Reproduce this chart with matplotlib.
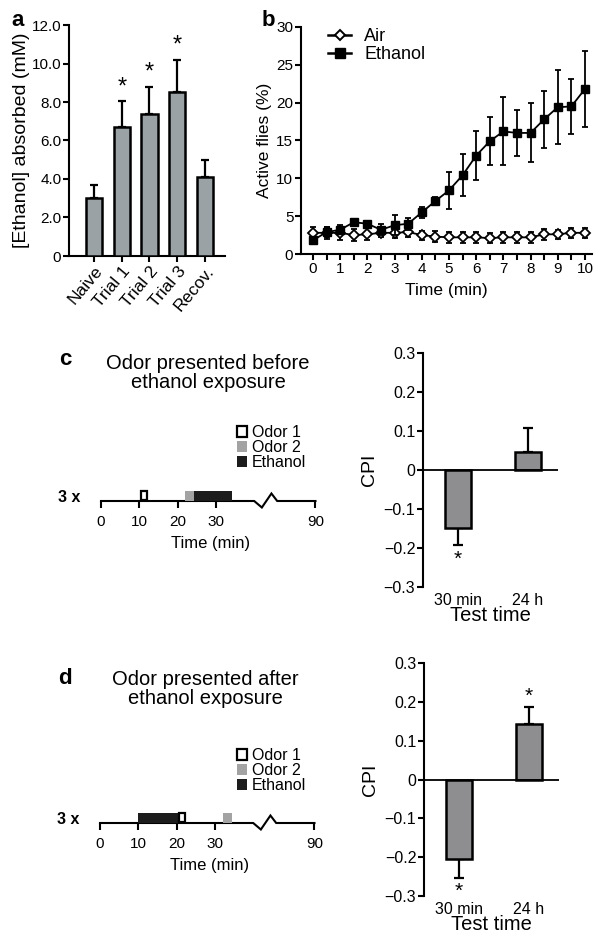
""" ethanol exposure figure: absorption, activity and odor preference panels """

import matplotlib
matplotlib.use("Agg")
from matplotlib import pyplot as plt
from matplotlib.lines import Line2D
from matplotlib.patches import Patch, Rectangle

plt.rcParams['font.family'] = ['Liberation Sans', 'DejaVu Sans']

# panel a : ethanol absorbed
groups_a = ['Naive', 'Trial 1', 'Trial 2', 'Trial 3', 'Recov.']
ethanol_mm = [3.0, 6.7, 7.4, 8.5, 4.1]
ethanol_mm_err = [0.7, 1.35, 1.4, 1.7, 0.9]
signif_a = [False, True, True, True, False]

# panel b : active flies over time
time_min = [0, 0.5, 1, 1.5, 2, 2.5, 3, 3.5, 4, 4.5, 5, 5.5, 6, 6.5, 7, 7.5, 8, 8.5, 9, 9.5, 10]
air_pct = [2.8, 2.8, 2.8, 2.5, 2.6, 2.8, 2.8, 2.9, 2.5, 2.3, 2.2, 2.2, 2.2, 2.1, 2.2, 2.2, 2.2, 2.6, 2.6, 2.8, 2.8]
air_err = [0.8, 0.8, 1.0, 0.8, 0.8, 0.6, 0.7, 0.7, 0.6, 0.7, 0.7, 0.7, 0.7, 0.7, 0.7, 0.7, 0.7, 0.7, 0.6, 0.7, 0.7]
ethanol_pct = [1.8, 2.9, 3.2, 4.2, 4.0, 3.2, 3.8, 4.0, 5.5, 7.0, 8.4, 10.4, 13.0, 14.9, 16.2, 16.0, 16.0, 17.8, 19.4, 19.5, 21.8]
ethanol_err = [0.5, 0.7, 0.4, 0.3, 0.3, 0.7, 1.3, 0.8, 0.7, 0.5, 2.4, 2.8, 3.2, 3.2, 4.5, 3.0, 3.9, 3.8, 4.9, 3.6, 5.0]

# panels c, d : protocol schedules (start, duration in min)
before_odor1 = (10.5, 1.5)
before_odor2 = (22.0, 2.3)
before_ethanol = (24.3, 10.0)
after_ethanol = (10.0, 10.7)
after_odor1 = (20.7, 1.6)
after_odor2 = (32.2, 2.3)
schedule_ticks = [0, 10, 20, 30, 90]

# panels c, d : conditioned preference index
test_times = ['30 min', '24 h']
cpi_before = [-0.15, 0.045]
cpi_before_err = [0.043, 0.063]
cpi_after = [-0.205, 0.143]
cpi_after_err = [0.048, 0.043]

W, H = 599, 938
BAR_A = '#9ba2a6'
BAR_CD = '#8e8e91'
ODOR2 = '#a3a3a3'
ETOH = '#1c1c1c'

fig = plt.figure(figsize=(W / 100, H / 100), dpi=100)


def px_axes(left, top, right, bottom):
    """ axes placed with pixel coordinates of the figure """
    return fig.add_axes([left / W, 1 - bottom / H, (right - left) / W, (bottom - top) / H])


def style_axes(ax, fs=10):
    for s in ['top', 'right']:
        ax.spines[s].set_visible(False)
    for s in ['left', 'bottom']:
        ax.spines[s].set_linewidth(1.5)
    ax.tick_params(direction='out', length=4, width=1.5, labelsize=fs, pad=1.5)


# ---------------- panel a
ax_a = px_axes(69, 25, 225, 256)
xa = list(range(len(groups_a)))
ax_a.bar(xa, ethanol_mm, width=0.58, color=BAR_A, edgecolor='black', linewidth=1.8, zorder=3)
ax_a.errorbar(xa, ethanol_mm, yerr=[[0] * len(xa), ethanol_mm_err], fmt='none',
              ecolor='black', elinewidth=1.6, capsize=3.2, capthick=1.6, zorder=2)
for x, v, e, s in zip(xa, ethanol_mm, ethanol_mm_err, signif_a):
    if s:
        ax_a.annotate('*', (x, v + e), xytext=(0, 2), textcoords='offset points',
                      ha='center', va='bottom', fontsize=17)
ax_a.set_xlim(-0.9, 4.72)
ax_a.set_ylim(0, 12)
ax_a.set_yticks([0, 2, 4, 6, 8, 10, 12])
ax_a.set_yticklabels(['0', '2.0', '4.0', '6.0', '8.0', '10.0', '12.0'])
ax_a.set_xticks(xa)
style_axes(ax_a, 11)
ax_a.set_xticklabels(groups_a, rotation=50, ha='right', rotation_mode='anchor', fontsize=12.5)
ax_a.set_ylabel('[Ethanol] absorbed (mM)', fontsize=14, labelpad=1)
fig.text(18 / W, 1 - 20 / H, 'a', fontsize=16, fontweight='bold', ha='center', va='center')

# ---------------- panel b
ax_b = px_axes(301, 27, 592, 254)
ax_b.errorbar(time_min, air_pct, yerr=air_err, color='black', lw=1.3, marker='D', ms=5,
              mfc='white', mec='black', mew=1.3, capsize=2.2, elinewidth=1.3, capthick=1.3,
              zorder=3)
ax_b.errorbar(time_min, ethanol_pct, yerr=ethanol_err, color='black', lw=1.3, marker='s', ms=6,
              mfc='black', mec='black', capsize=2.2, elinewidth=1.3, capthick=1.3, zorder=4)
ax_b.set_xlim(-0.44, 10.26)
ax_b.set_ylim(0, 30)
ax_b.set_yticks([0, 5, 10, 15, 20, 25, 30])
ax_b.set_xticks(time_min)
ax_b.set_xticklabels([f'{t:g}' if t == int(t) else '' for t in time_min])
style_axes(ax_b, 11)
ax_b.set_ylabel('Active flies (%)', fontsize=12.5, labelpad=3)
ax_b.set_xlabel('Time (min)', fontsize=12.5, labelpad=5)
leg_b = [Line2D([], [], color='black', lw=1.8, marker='D', ms=5.5, mfc='white', mec='black',
                mew=1.4, label='Air'),
         Line2D([], [], color='black', lw=1.8, marker='s', ms=6.5, mfc='black', label='Ethanol')]
fig.legend(handles=leg_b, loc='upper left', bbox_to_anchor=(328 / W, 1 - 28 / H), frameon=False,
           fontsize=13, handlelength=1.3, handletextpad=0.7, labelspacing=0.05,
           borderaxespad=0, borderpad=0)
fig.text(268 / W, 1 - 20 / H, 'b', fontsize=16, fontweight='bold', ha='center', va='center')


# ---------------- panels c, d : schedules
def draw_schedule(line_y, x0, blocks, legend_top):
    scale = 3.83  # px per minute
    lo, hi = -3, 60
    ax = px_axes(x0 + lo * scale, line_y - 20, x0 + hi * scale, line_y)
    ax.set_xlim(lo, hi)
    ax.set_ylim(0, 20)
    for s in ax.spines.values():
        s.set_visible(False)
    ax.set_yticks([])
    # broken time axis, 90 min placed at 56 on the drawing
    ax.plot([0, 40, 42, 44.5, 46, 56], [0, 0, -6.5, 7.5, 0, 0], color='black', lw=1.5,
            clip_on=False, solid_joinstyle='miter')
    ax.set_xticks([0, 10, 20, 30, 56])
    ax.set_xticklabels([str(t) for t in schedule_ticks])
    ax.tick_params(axis='x', direction='out', length=5, width=1.5, labelsize=11, pad=5)
    ax.set_xlabel('Time (min)', fontsize=12, labelpad=5)
    for (start, dur), fc in blocks:
        if fc == 'white':
            ax.add_patch(Rectangle((start, 0.8), dur, 9.2, facecolor='white', edgecolor='black',
                                   linewidth=1.6, zorder=4))
        else:
            ax.add_patch(Rectangle((start, 0), dur, 10, facecolor=fc, edgecolor='none', zorder=3))
    ax.text(-5.5, 4, '3 x', fontsize=11.5, fontweight='bold', ha='right', va='center')
    handles = [Patch(facecolor='white', edgecolor='black', linewidth=1.6, label='Odor 1'),
               Patch(facecolor=ODOR2, edgecolor='none', label='Odor 2'),
               Patch(facecolor=ETOH, edgecolor='none', label='Ethanol')]
    fig.legend(handles=handles, loc='upper left', bbox_to_anchor=(237 / W, 1 - legend_top / H),
               frameon=False, fontsize=11.5, handlelength=0.65, handleheight=0.65,
               handletextpad=0.3, labelspacing=0.0, borderaxespad=0, borderpad=0)
    return ax


draw_schedule(501, 101, [(before_odor2, ODOR2), (before_ethanol, ETOH), (before_odor1, 'white')], 425)
draw_schedule(823, 100, [(after_ethanol, ETOH), (after_odor2, ODOR2), (after_odor1, 'white')], 748)

fig.text(65 / W, 1 - 359 / H, 'c', fontsize=16, fontweight='bold', ha='center', va='center')
fig.text(208 / W, 1 - 373 / H, 'Odor presented before\nethanol exposure', fontsize=14.5,
         ha='center', va='center', linespacing=1.05)
fig.text(65 / W, 1 - 678 / H, 'd', fontsize=16, fontweight='bold', ha='center', va='center')
fig.text(205 / W, 1 - 689 / H, 'Odor presented after\nethanol exposure', fontsize=14.5,
         ha='center', va='center', linespacing=1.05)


# ---------------- panels c, d : CPI bars
def draw_cpi(top_px, bottom_px, left_px, values, errs, stars):
    ax = px_axes(left_px, top_px, left_px + 135, bottom_px)
    xs = list(range(len(values)))
    ax.bar(xs, values, width=0.36, color=BAR_CD, edgecolor='black', linewidth=1.8, zorder=3)
    lo = [e if v < 0 else 0 for v, e in zip(values, errs)]
    hi = [e if v >= 0 else 0 for v, e in zip(values, errs)]
    ax.errorbar(xs, values, yerr=[lo, hi], fmt='none', ecolor='black', elinewidth=1.6,
                capsize=3.5, capthick=1.6, zorder=2)
    ax.axhline(0, color='black', lw=1.3, zorder=4)
    for x, v, e, s in zip(xs, values, errs, stars):
        if not s:
            continue
        if v < 0:
            ax.annotate('*', (x, v - e), xytext=(0, -3), textcoords='offset points',
                        ha='center', va='top', fontsize=15)
        else:
            ax.annotate('*', (x, v + e), xytext=(0, 1), textcoords='offset points',
                        ha='center', va='bottom', fontsize=15)
    ax.set_xlim(-0.5, 1.43)
    ax.set_ylim(-0.3, 0.3)
    ax.set_yticks([-0.3, -0.2, -0.1, 0, 0.1, 0.2, 0.3])
    ax.set_yticklabels(['\u22120.3', '\u22120.2', '\u22120.1', '0', '0.1', '0.2', '0.3'])
    ax.spines['bottom'].set_visible(False)
    style_axes(ax, 11.5)
    ax.set_xticks(xs)
    ax.set_xticklabels(test_times)
    ax.tick_params(axis='x', length=0, pad=4)
    ax.set_ylabel('CPI', fontsize=14, labelpad=4)
    ax.set_xlabel('Test time', fontsize=14.5, labelpad=-1)
    return ax


draw_cpi(353, 587, 423, cpi_before, cpi_before_err, [True, False])
draw_cpi(663, 896, 424, cpi_after, cpi_after_err, [True, True])

fig.savefig('out.png', dpi=100)
